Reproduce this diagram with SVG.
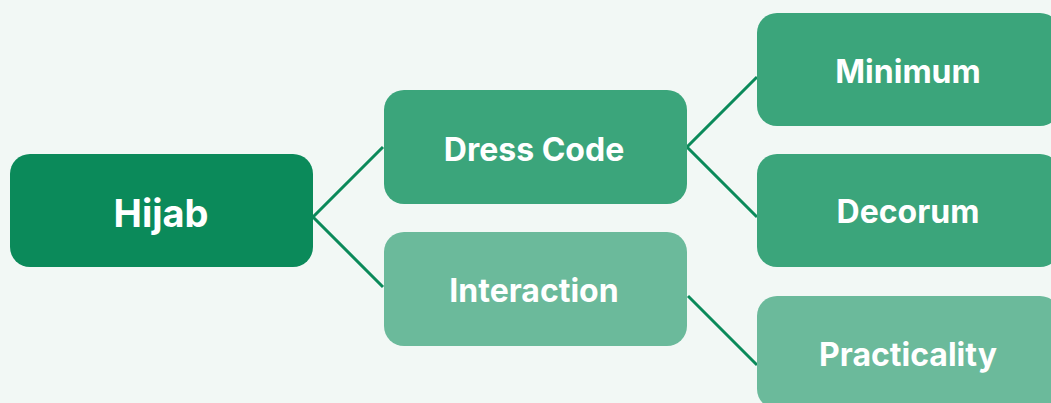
<svg xmlns="http://www.w3.org/2000/svg" width="1051" height="403" viewBox="0 0 1051 403">
<style>
.t{font-family:"Inter","Lato","Liberation Sans",sans-serif;font-weight:700;fill:#ffffff;text-anchor:middle;font-variant-ligatures:none}
.c{stroke:#0b8a5a;stroke-width:3;fill:none}
</style>
<rect x="0" y="0" width="1051" height="403" fill="#f2f8f5"/>
<g id="connectors">
<polyline class="c" points="383,147 313,217 383,287"/>
<polyline class="c" points="757,77 687,147 757,217"/>
<line class="c" x1="688" y1="296" x2="757" y2="365"/>
</g>
<g id="hijab"><rect x="10" y="154" width="303" height="113" rx="20" fill="#0b8a5a"/><text class="t" x="161" y="227" font-size="38">Hijab</text></g>
<g id="dresscode"><rect x="384" y="90" width="303" height="114" rx="20" fill="#3ba57b"/><text class="t" x="534" y="161" font-size="32">Dress Code</text></g>
<g id="interaction"><rect x="384" y="232" width="303" height="114" rx="20" fill="#6bba9b"/><text class="t" x="534" y="302" font-size="32">Interaction</text></g>
<g id="minimum"><rect x="757" y="13" width="303" height="113" rx="20" fill="#3ba57b"/><text class="t" x="908" y="83" font-size="32">Minimum</text></g>
<g id="decorum"><rect x="757" y="154" width="303" height="113" rx="20" fill="#3ba57b"/><text class="t" x="908" y="223" font-size="32">Decorum</text></g>
<g id="practicality"><rect x="757" y="296" width="303" height="113" rx="20" fill="#6bba9b"/><text class="t" x="908" y="366" font-size="32">Practicality</text></g>
</svg>
